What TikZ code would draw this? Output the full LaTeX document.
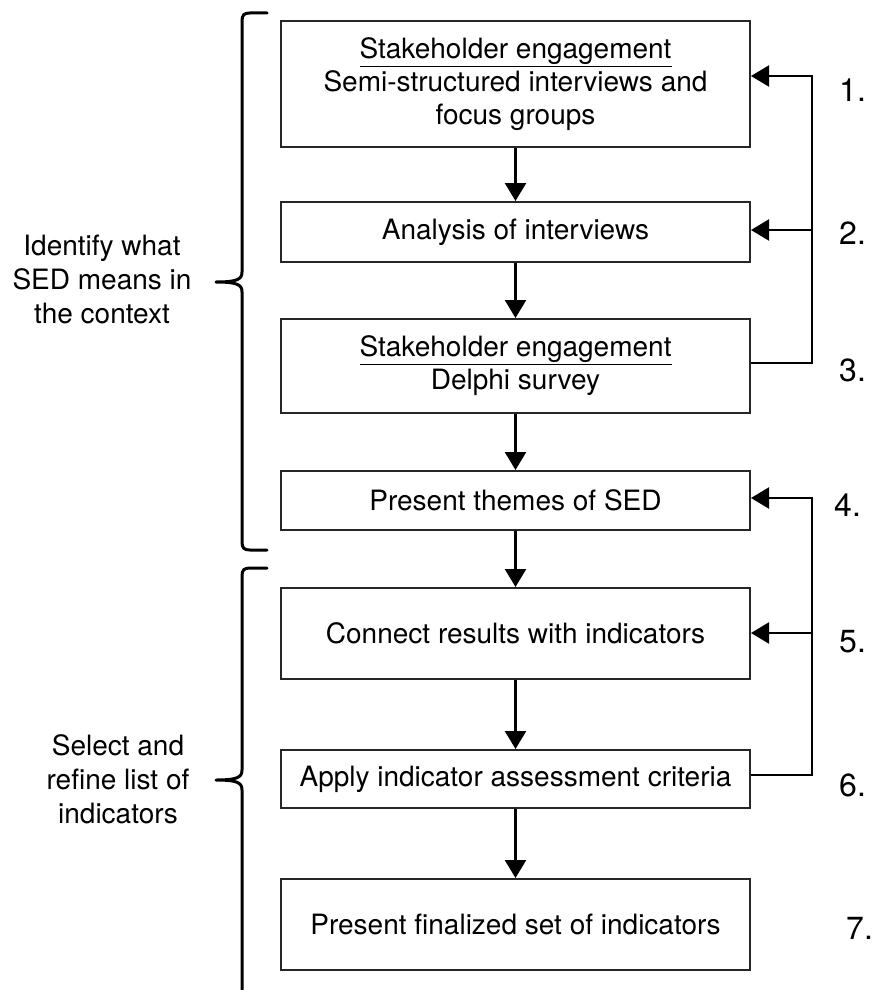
\documentclass[tikz,border=0pt]{standalone}
\usepackage{fontspec}
\setmainfont{TeX Gyre Heros}
\usetikzlibrary{arrows.meta}
\begin{document}
\begin{tikzpicture}[x=1pt,y=-1pt,
 stepbox/.style={draw=black!85, line width=2pt, minimum width=469pt, inner sep=0pt, align=center, font=\fontsize{28}{33}\selectfont},
 arr/.style={line width=2.4pt, -{Triangle[length=18pt,width=21pt]}},
 brace/.style={line width=3pt, line join=round, line cap=round},
 lab/.style={align=center, inner sep=0pt, font=\fontsize{28}{34}\selectfont},
 num/.style={anchor=west, inner sep=0pt, font=\fontsize{32}{32}\selectfont}]
\useasboundingbox (0,0) rectangle (876,990);
\fill[white] (0,0) rectangle (876,990);
% boxes
\node[stepbox, minimum height=126pt] (b1) at (515.5,84) {\underline{Stakeholder engagement}\\Semi-structured interviews and\\focus groups};
\node[stepbox, minimum height=60pt] (b2) at (515.5,232) {Analysis of interviews};
\node[stepbox, minimum height=94pt] (b3) at (515.5,366) {\underline{Stakeholder engagement}\\Delphi survey};
\node[stepbox, minimum height=59pt] (b4) at (515.5,500.5) {Present themes of SED};
\node[stepbox, minimum height=91pt] (b5) at (515.5,633.5) {Connect results with indicators};
\node[stepbox, minimum height=58pt] (b6) at (515.5,779) {Apply indicator assessment criteria};
\node[stepbox, minimum height=91pt] (b7) at (515.5,924.5) {Present finalized set of indicators};
% main flow
\draw[arr] (b1) -- (b2);
\draw[arr] (b2) -- (b3);
\draw[arr] (b3) -- (b4);
\draw[arr] (b4) -- (b5);
\draw[arr] (b5) -- (b6);
\draw[arr] (b6) -- (b7);
% feedback loops
\coordinate (fb1) at (812,76);
\coordinate (fb2) at (812,230);
\coordinate (fb4) at (812,498);
\coordinate (fb5) at (812,633);
\draw[arr, line width=2.2pt] ([yshift=3pt]b3.east) -| (fb1) -- (b1.east |- fb1);
\draw[arr, line width=2.2pt] (fb2) -- (b2.east |- fb2);
\draw[arr, line width=2.2pt] ([yshift=4pt]b6.east) -| (fb4) -- (b4.east |- fb4);
\draw[arr, line width=2.2pt] (fb5) -- (b5.east |- fb5);
% numbers
\node[num] (n1) at (839,90) {1.};
\node[num] (n2) at (839,233) {2.};
\node[num] (n3) at (839,370) {3.};
\node[num] (n4) at (834,505) {4.};
\node[num] (n5) at (839,642) {5.};
\node[num] (n6) at (839,785) {6.};
\node[num] (n7) at (846,928) {7.};
% braces
\draw[brace] (267,13) -- (250,13) .. controls (244,13) and (242,15) .. (242,21) -- (242,272) .. controls (242,279) and (238,282) .. (216,282) .. controls (238,282) and (242,285) .. (242,292) -- (242,542) .. controls (242,548) and (244,550) .. (250,550) -- (267,550);
\draw[brace] (267,568) -- (250,568) .. controls (244,568) and (242,570) .. (242,576) -- (242,770) .. controls (242,777) and (238,780) .. (216,780) .. controls (238,780) and (242,783) .. (242,790) -- (242,992);
% side labels
\node[lab] (l1) at (102,279) {Identify what\\SED means in\\the context};
\node[lab] (l2) at (118,779) {Select and\\refine list of\\indicators};
\end{tikzpicture}
\end{document}
